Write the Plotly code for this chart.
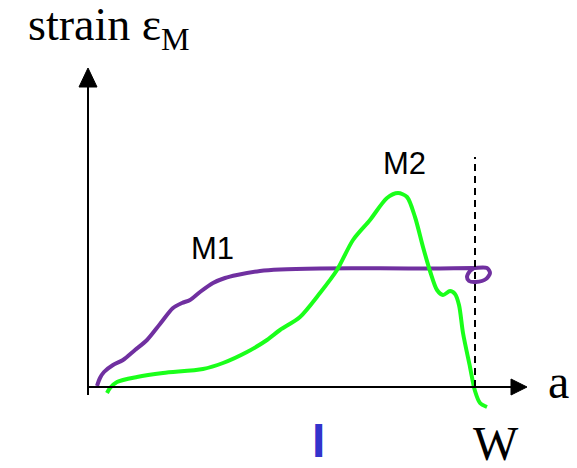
import plotly.graph_objects as go

# Crack-length axis "a" and strain readings for the two gauges
m1_a = [9, 12, 16, 25, 35, 47, 59, 72, 85, 94, 102, 112, 125, 137, 149, 172, 192,
        232, 292, 352, 385, 399, 402, 398, 388, 381, 379, 382, 386]
m1_strain = [1, 9, 15, 22, 27, 37, 47, 63, 79, 84, 87, 95, 104, 109, 112, 116, 117.5,
             118.5, 118.7, 118.5, 119, 119, 114, 108, 105, 106, 110, 116, 119]

m2_a = [19, 22, 29, 49, 75, 115, 135, 159, 179, 192, 212, 232, 249, 265, 282, 299,
        310, 319, 327, 335, 342, 349, 355, 362, 367, 371, 375, 382, 387, 392, 399]
m2_strain = [-6, -1, 5, 10, 14, 18, 24, 35, 47, 57, 70, 94, 117, 147, 167, 189,
             194, 190, 170, 140, 116, 97, 92, 96, 93, 82, 54, 20, -4, -16, -20]

width_W = 387          # specimen width position on the a axis
a_max = 439            # end of the a axis arrow
strain_max = 319       # end of the strain axis arrow

PURPLE = "#7030a0"
GREEN = "#1aff1a"
BLUE = "#3333cc"

fig = go.Figure()
fig.add_trace(go.Scatter(x=m1_a, y=m1_strain, mode="lines",
                         line=dict(color=PURPLE, width=4, shape="spline", smoothing=0.8),
                         hoverinfo="skip"))
fig.add_trace(go.Scatter(x=m2_a, y=m2_strain, mode="lines",
                         line=dict(color=GREEN, width=4, shape="spline", smoothing=0.8),
                         hoverinfo="skip"))

# axes with arrowheads
fig.add_shape(type="line", x0=0, y0=-8, x1=0, y1=strain_max - 15,
              line=dict(color="black", width=2))
fig.add_shape(type="path",
              path=f"M -9,{strain_max - 19} L 9,{strain_max - 19} L 0,{strain_max} Z",
              fillcolor="black", line=dict(color="black", width=1))
fig.add_shape(type="line", x0=-1, y0=0, x1=a_max - 12, y1=0,
              line=dict(color="black", width=2))
fig.add_shape(type="path",
              path=f"M {a_max - 16},-8 L {a_max - 16},8 L {a_max},0 Z",
              fillcolor="black", line=dict(color="black", width=1))

# dashed line at W
fig.add_shape(type="line", x0=width_W, y0=0, x1=width_W, y1=230,
              line=dict(color="black", width=2, dash="7px,5px"))

serif = "Liberation Serif"
sans = "Liberation Sans"
ann = [
    dict(x=-62, y=359, text="strain ε<sub>M</sub>", xanchor="left", yanchor="middle",
         font=dict(family=serif, size=46, color="black")),
    dict(x=124, y=139, text="M1", font=dict(family=sans, size=31, color="black")),
    dict(x=316, y=224, text="M2", font=dict(family=sans, size=31, color="black")),
    dict(x=470, y=6, text="a", font=dict(family=serif, size=48, color="black")),
    dict(x=408, y=-56, text="W", font=dict(family=serif, size=48, color="black")),
    dict(x=230, y=-53, text="<b>I</b>", font=dict(family=sans, size=48, color=BLUE)),
]
for a in ann:
    a.setdefault("xanchor", "center")
    a.setdefault("yanchor", "middle")
    fig.add_annotation(xref="x", yref="y", showarrow=False, **a)

fig.update_layout(
    width=577, height=468,
    margin=dict(l=0, r=0, t=0, b=0),
    paper_bgcolor="white", plot_bgcolor="white",
    showlegend=False,
    xaxis=dict(range=[-88, 489], visible=False, fixedrange=True),
    yaxis=dict(range=[-81, 387], visible=False, fixedrange=True),
)

fig.write_html("out.html", config={"displayModeBar": False})
